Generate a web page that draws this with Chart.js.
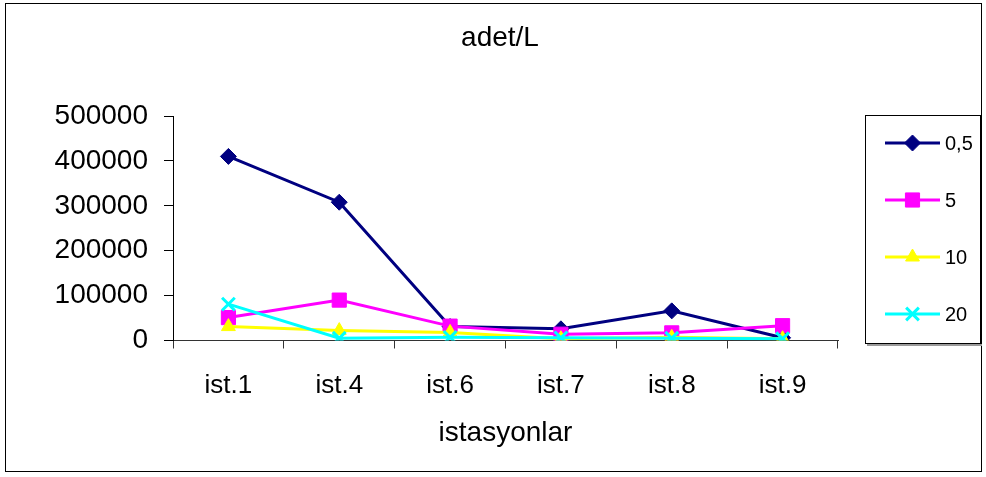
<!DOCTYPE html>
<html>
<head>
<meta charset="utf-8">
<script src="https://cdn.jsdelivr.net/npm/chart.js@4/dist/chart.umd.min.js"></script>
<style>
  html, body { margin: 0; padding: 0; background: #fff; }
  #wrap { width: 986px; height: 477px; }
</style>
</head>
<body>
<div id="wrap"><canvas id="c" width="986" height="477"></canvas></div>
<script>
// Sampling stations along the x axis
const stations = ['ist.1', 'ist.4', 'ist.6', 'ist.7', 'ist.8', 'ist.9'];
// Depth series names (legend)
const depthNames = ['0,5', '5', '10', '20'];
// Counts per litre at each station, one array per depth
const depth05 = [410000, 308000, 31000, 26000, 66000, 6000];
const depth5  = [51000, 90000, 32000, 14000, 17000, 33000];
const depth10 = [31000, 22000, 18000, 4000, 7000, 4000];
const depth20 = [81000, 5000, 7000, 6000, 5000, 4000];
// Value axis range and step
const yMin = 0, yMax = 500000, yStep = 100000;

const chartTitle = 'adet/L';
const xTitle = 'istasyonlar';
const FONT = "'Liberation Sans', Arial, sans-serif";

const seriesStyle = [
  { color: '#000080', pointStyle: 'rectRot', radius: 8 },
  { color: '#FF00FF', pointStyle: 'rect', radius: 10 },
  { color: '#FFFF00', pointStyle: 'triangle', radius: 8 },
  { color: '#00FFFF', pointStyle: 'crossRot', radius: 9 }
];
const seriesData = [depth05, depth5, depth10, depth20];

const datasets = seriesData.map((vals, i) => ({
  label: depthNames[i],
  data: vals,
  borderColor: seriesStyle[i].color,
  backgroundColor: seriesStyle[i].color,
  pointBackgroundColor: seriesStyle[i].color,
  pointBorderColor: seriesStyle[i].color,
  pointStyle: seriesStyle[i].pointStyle,
  pointRadius: seriesStyle[i].radius,
  pointHoverRadius: seriesStyle[i].radius,
  pointBorderWidth: seriesStyle[i].pointStyle === 'crossRot' ? 3 : 1,
  borderWidth: 3,
  tension: 0,
  fill: false,
  order: seriesData.length - i
}));

// Frame, title and boxed legend drawn around the plot
const decorations = {
  id: 'decorations',
  afterDraw(chart) {
    const ctx = chart.ctx;
    ctx.save();
    // outer frame
    ctx.strokeStyle = '#000';
    ctx.lineWidth = 1;
    ctx.strokeRect(5.5, 3.5, 976, 468);
    // title
    ctx.fillStyle = '#000';
    ctx.font = '28px ' + FONT;
    ctx.textAlign = 'center';
    ctx.textBaseline = 'middle';
    ctx.fillText(chartTitle, 500, 38);
    // legend box with a light shadow
    ctx.fillStyle = '#9a9a9a';
    ctx.fillRect(867, 344, 115, 2);
    ctx.strokeStyle = '#000';
    ctx.strokeRect(865.5, 115.5, 115, 228);
    const rowY = [143, 200, 257, 314];
    chart.data.datasets.forEach((ds, i) => {
      const y = rowY[i];
      ctx.strokeStyle = ds.borderColor;
      ctx.lineWidth = 3;
      ctx.beginPath();
      ctx.moveTo(885, y);
      ctx.lineTo(940, y);
      ctx.stroke();
      ctx.fillStyle = ds.pointBackgroundColor;
      ctx.strokeStyle = ds.pointBorderColor;
      ctx.lineWidth = ds.pointBorderWidth;
      Chart.helpers.drawPoint(ctx, {
        pointStyle: ds.pointStyle,
        radius: ds.pointRadius,
        rotation: 0,
        borderWidth: ds.pointBorderWidth
      }, 912.5, y);
      ctx.fillStyle = '#000';
      ctx.font = '20px ' + FONT;
      ctx.textAlign = 'left';
      ctx.textBaseline = 'middle';
      ctx.fillText(ds.label, 945, y + 1);
    });
    ctx.restore();
  }
};

new Chart(document.getElementById('c'), {
  type: 'line',
  data: { labels: stations, datasets },
  options: {
    responsive: false,
    animation: false,
    devicePixelRatio: 1,
    layout: { padding: { top: 116, right: 148, bottom: 0, left: 0 } },
    plugins: {
      legend: { display: false },
      title: { display: false },
      tooltip: { enabled: false }
    },
    scales: {
      x: {
        type: 'category',
        offset: true,
        afterFit(s) { s.height = 136.5; },
        border: { display: true, color: '#333', width: 1 },
        grid: { display: true, offset: true, drawOnChartArea: false, drawTicks: true, tickLength: 8, color: '#333' },
        ticks: { color: '#000', font: { family: FONT, size: 26 }, padding: 22, maxRotation: 0 },
        title: { display: true, text: xTitle, color: '#000', font: { family: FONT, size: 28 }, padding: { top: 0, bottom: 27 } }
      },
      y: {
        min: yMin,
        max: yMax,
        afterFit(s) { s.width = 173; },
        border: { display: true, color: '#000', width: 1 },
        grid: { display: true, drawOnChartArea: false, drawTicks: true, tickLength: 9, color: '#000' },
        ticks: {
          stepSize: yStep,
          color: '#000',
          font: { family: FONT, size: 28 },
          padding: 16,
          callback: v => String(v)
        }
      }
    }
  },
  plugins: [decorations]
});
</script>
</body>
</html>
